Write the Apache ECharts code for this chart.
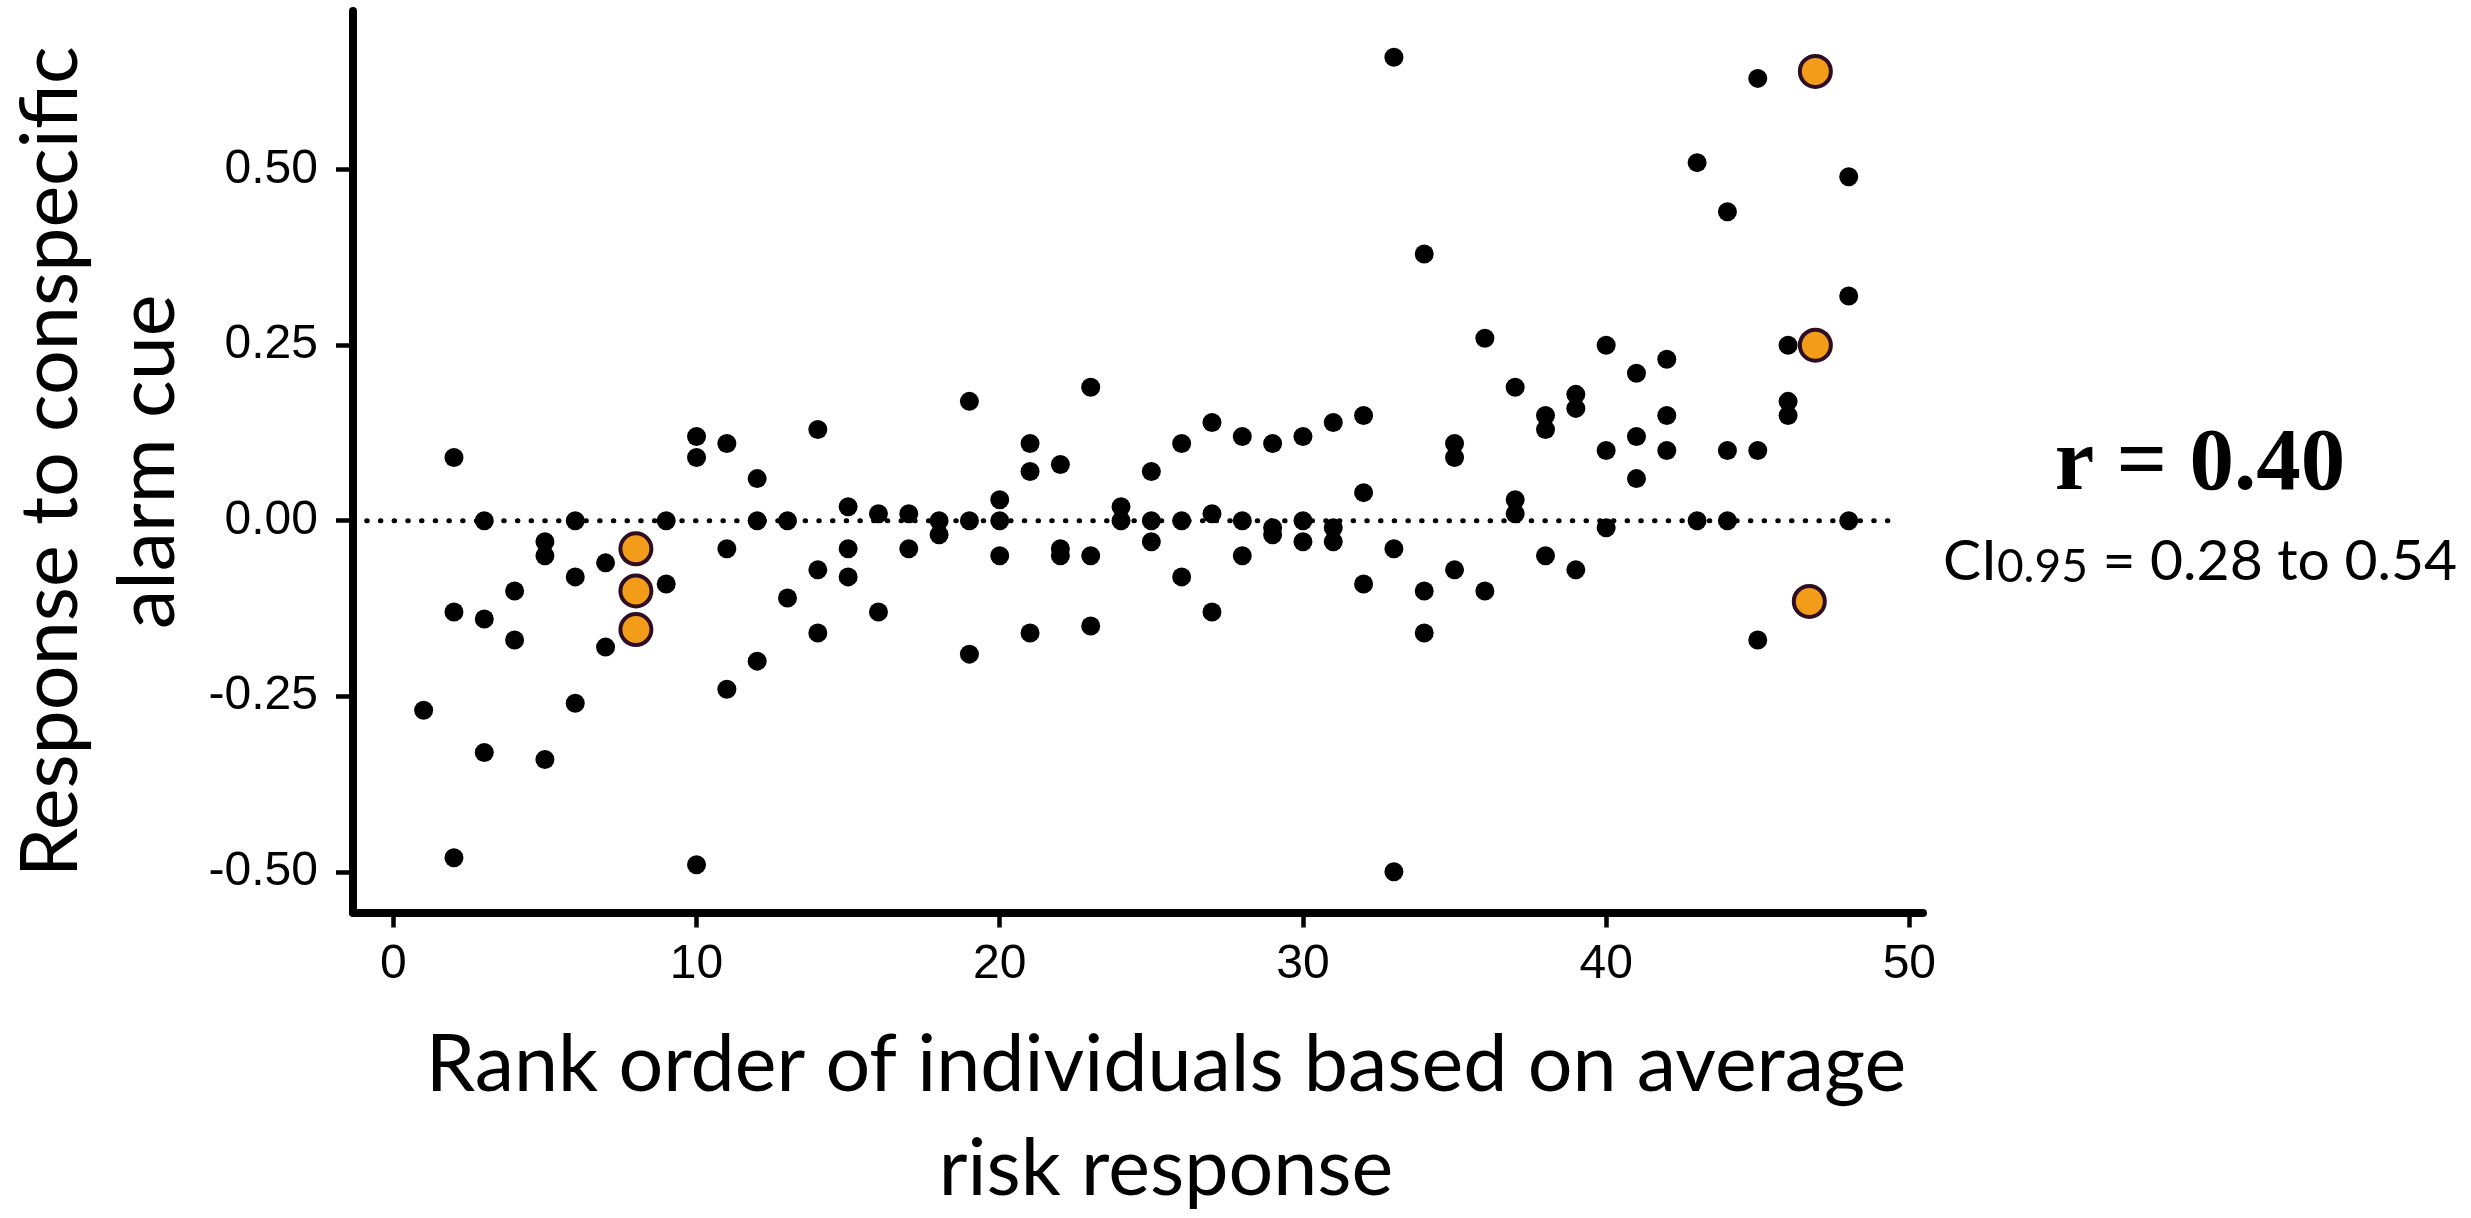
<!DOCTYPE html>
<html>
<head>
<meta charset="utf-8">
<script src="https://cdn.jsdelivr.net/npm/echarts@6/dist/echarts.min.js"></script>
<style>
html,body{margin:0;padding:0;background:#fff;}
#chart{width:2471px;height:1218px;}
</style>
</head>
<body>
<div id="chart"></div>
<script>
// ---- data ----
const blackRank = [
  1,
  2,2,2,
  3,3,3,
  4,4,
  5,5,5,
  6,6,6,
  7,7,
  9,9,
  10,10,10,
  11,11,11,
  12,12,12,
  13,13,
  14,14,14,
  15,15,15,
  16,16,
  17,17,
  18,18,
  19,19,19,
  20,20,20,
  21,21,21,
  22,22,22,
  23,23,23,
  24,24,
  25,25,25,
  26,26,26,
  27,27,27,
  28,28,28,
  29,29,29,
  30,30,30,
  31,31,31,
  32,32,32,
  33,33,33,
  34,34,34,
  35,35,35,
  36,36,
  37,37,37,
  38,38,38,
  39,39,39,
  40,40,40,
  41,41,41,
  42,42,42,
  43,43,
  44,44,44,
  45,45,45,
  46,46,46,
  48,48,48
];
const blackResponse = [
  -0.27,
  0.09,-0.13,-0.48,
  0.00,-0.14,-0.33,
  -0.10,-0.17,
  -0.03,-0.05,-0.34,
  0.00,-0.08,-0.26,
  -0.06,-0.18,
  0.00,-0.09,
  0.12,0.09,-0.49,
  0.11,-0.04,-0.24,
  0.06,0.00,-0.20,
  0.00,-0.11,
  0.13,-0.07,-0.16,
  0.02,-0.04,-0.08,
  0.01,-0.13,
  0.01,-0.04,
  0.00,-0.02,
  0.17,0.00,-0.19,
  0.03,0.00,-0.05,
  0.11,0.07,-0.16,
  0.08,-0.04,-0.05,
  0.19,-0.05,-0.15,
  0.02,0.00,
  0.07,0.00,-0.03,
  0.11,0.00,-0.08,
  0.14,0.01,-0.13,
  0.12,0.00,-0.05,
  0.11,-0.01,-0.02,
  0.12,0.00,-0.03,
  0.14,-0.01,-0.03,
  0.15,0.04,-0.09,
  0.66,-0.04,-0.50,
  0.38,-0.10,-0.16,
  0.11,0.09,-0.07,
  0.26,-0.10,
  0.19,0.03,0.01,
  0.15,0.13,-0.05,
  0.18,0.16,-0.07,
  0.25,0.10,-0.01,
  0.21,0.12,0.06,
  0.23,0.15,0.10,
  0.51,0.00,
  0.44,0.10,0.00,
  0.63,0.10,-0.17,
  0.25,0.17,0.15,
  0.49,0.32,0.00
];
const highlightRank = [8, 8, 8, 46.9, 46.9, 46.7];
const highlightResponse = [-0.04, -0.10, -0.155, 0.64, 0.25, -0.115];
const zeroLine = [[-1.33, 0], [49.3, 0]];
const xTicks = [0, 10, 20, 30, 40, 50];
const yTicks = [-0.50, -0.25, 0, 0.25, 0.50];
const xTitle = 'Rank order of individuals based on average\nrisk response';
const yTitle = 'Response to conspecific\nalarm cue';
const rText = 'r = 0.40';
const ciLabel = 'CI';
const ciSub = '0.95';
const ciRange = ' = 0.28 to 0.54';

const blackData = blackRank.map((x, i) => [x, blackResponse[i]]);
const highlightData = highlightRank.map((x, i) => [x, highlightResponse[i]]);

const chart = echarts.init(document.getElementById('chart'), null, {renderer: 'canvas'});
chart.setOption({
  animation: false,
  backgroundColor: '#ffffff',
  grid: {left: 353, top: 11, width: 1570, height: 901.5, containLabel: false, outerBoundsMode: 'none'},
  xAxis: {
    type: 'value',
    min: -1.33,
    max: 50.45,
    name: xTitle,
    nameLocation: 'middle',
    nameGap: 101,
    nameTextStyle: {fontFamily: 'Lato', fontSize: 79, color: '#000', lineHeight: 104, padding: [0, 0, 0, 56]},
    axisLine: {show: true, onZero: false, lineStyle: {color: '#000', width: 8}},
    axisTick: {show: true, customValues: xTicks, length: 15, lineStyle: {color: '#000', width: 4.5}},
    axisLabel: {customValues: xTicks, margin: 28, fontFamily: 'Liberation Sans', fontSize: 48, color: '#000'},
    splitLine: {show: false}
  },
  yAxis: {
    type: 'value',
    min: -0.558,
    max: 0.726,
    name: yTitle,
    nameLocation: 'middle',
    nameGap: 156,
    nameTextStyle: {fontFamily: 'Lato', fontSize: 79, color: '#000', lineHeight: 97},
    axisLine: {show: true, onZero: false, lineStyle: {color: '#000', width: 8}},
    axisTick: {show: true, customValues: yTicks, length: 17, lineStyle: {color: '#000', width: 4.5}},
    axisLabel: {customValues: yTicks, margin: 35, fontFamily: 'Liberation Sans', fontSize: 48, color: '#000',
      formatter: v => v.toFixed(2)},
    splitLine: {show: false}
  },
  series: [
    {
      type: 'line',
      data: zeroLine,
      symbol: 'none',
      silent: true,
      z: 1,
      lineStyle: {color: '#000', width: 5, type: [0.5, 13.2], cap: 'round'}
    },
    {
      type: 'scatter',
      data: blackData,
      symbol: 'circle',
      symbolSize: 19,
      z: 2,
      itemStyle: {color: '#000', opacity: 1}
    },
    {
      type: 'scatter',
      data: highlightData,
      symbol: 'circle',
      symbolSize: 31,
      z: 3,
      itemStyle: {color: '#F39C19', borderColor: '#2E0E22', borderWidth: 4, opacity: 1}
    }
  ],
  graphic: [
    {
      type: 'text',
      x: 2200, y: 466,
      style: {
        text: rText,
        font: 'bold 89px "Liberation Serif"',
        fill: '#000',
        align: 'center', verticalAlign: 'middle',
        textAlign: 'center', textVerticalAlign: 'middle'
      }
    },
    {
      type: 'text',
      x: 2200, y: 557,
      style: {
        text: '{a|' + ciLabel + '}{b|' + ciSub + '}{a|' + ciRange + '}',
        rich: {
          a: {fontFamily: 'Lato', fontSize: 57, fill: '#000', color: '#000', verticalAlign: 'bottom', lineHeight: 66},
          b: {fontFamily: 'Lato', fontSize: 46, fill: '#000', color: '#000', verticalAlign: 'bottom', lineHeight: 66}
        },
        align: 'center', verticalAlign: 'middle',
        textAlign: 'center', textVerticalAlign: 'middle'
      }
    }
  ]
});
</script>
</body>
</html>
